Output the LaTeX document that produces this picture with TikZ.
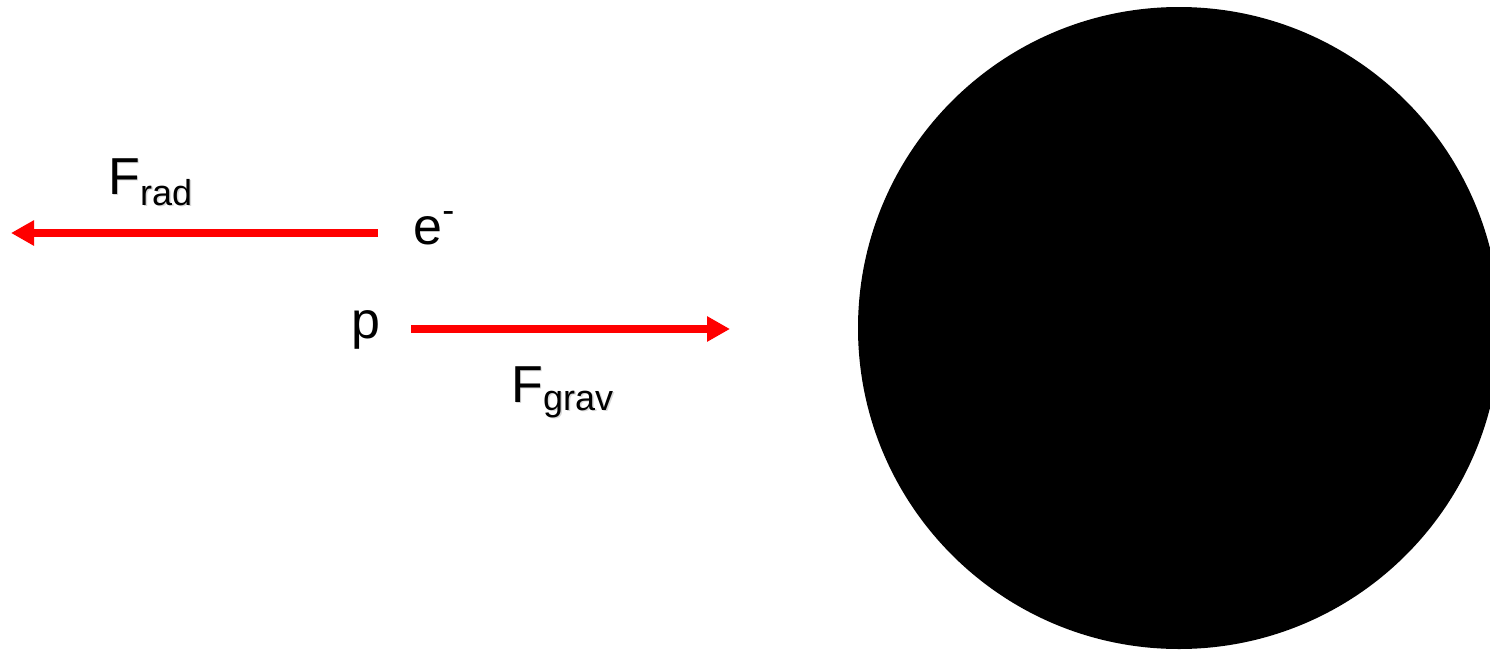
\documentclass[tikz,border=0pt]{standalone}
\usepackage{fontspec}
\setmainfont{Liberation Sans}
\usetikzlibrary{arrows.meta}
\newcommand{\bigtxt}{\fontsize{26pt}{31pt}\selectfont}
\newcommand{\subtxt}{\fontsize{18pt}{22pt}\selectfont}
\tikzset{
  force/.style={draw=red, line width=3.75pt, -{Triangle[length=11.5pt,width=12pt]}},
  lbl/.style={inner sep=0pt, anchor=base west, font=\bigtxt},
  shadowlbl/.style={lbl, text=black!35, opacity=0.45},
}
\begin{document}
\begin{tikzpicture}[x=0.5pt, y=-0.5pt]
\useasboundingbox (0,0) rectangle (1490,649);
\begin{scope}
\clip (0,0) rectangle (1490,649);
\fill[black] (1179,328) circle (160.5pt);
\end{scope}
% force arrows
\coordinate (radstart) at (378,233);
\coordinate (radend) at (11,233);
\coordinate (gravstart) at (411,329);
\coordinate (gravend) at (730,329);
\draw[force] (radstart) -- (radend);
\draw[force] (gravstart) -- (gravend);
% labels (with soft shadow)
\node[shadowlbl] at (109.5,195.5) {F\raisebox{-5.5pt}{\subtxt rad}};
\node[lbl] (frad) at (108,194) {F\raisebox{-5.5pt}{\subtxt rad}};
\node[shadowlbl] at (512.5,403.5) {F\raisebox{-4pt}{\subtxt grav}};
\node[lbl] (fgrav) at (511,402) {F\raisebox{-4pt}{\subtxt grav}};
\node[lbl] (electron) at (413,244) {e\raisebox{11pt}{\subtxt -}};
\node[lbl] (proton) at (351,338) {p};
\end{tikzpicture}
\end{document}
